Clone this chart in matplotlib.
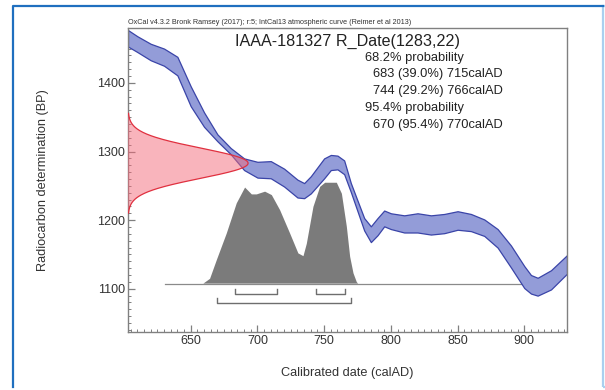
# EXT
import numpy as np
import matplotlib
matplotlib.use("Agg")
import matplotlib.pyplot as plt
from matplotlib.patches import Rectangle

# GLOBALS
# IntCal13 band (upper / lower edge, BP) against calendar year
CURVE_YEARS = [603, 610, 620, 630, 640, 650, 660, 670, 680, 690, 700, 710, 720, 730, 735, 740, 750, 755, 760, 765,
               770, 780, 785, 790, 795, 800, 810, 820, 830, 840, 850, 860, 870, 880, 890, 900, 905, 910, 920, 932]
CURVE_UPPER = [1477, 1468, 1457, 1450, 1438, 1395, 1357, 1325, 1305, 1290, 1285, 1286, 1275, 1259, 1254, 1264, 1290,
               1295, 1294, 1287, 1254, 1203, 1191, 1203, 1214, 1210, 1207, 1210, 1207, 1209, 1213, 1209, 1201, 1187,
               1163, 1133, 1120, 1116, 1127, 1149]
CURVE_LOWER = [1453, 1445, 1433, 1425, 1411, 1366, 1336, 1315, 1296, 1273, 1262, 1261, 1249, 1233, 1232, 1239, 1261,
               1273, 1274, 1267, 1241, 1185, 1168, 1178, 1191, 1187, 1182, 1182, 1179, 1181, 1186, 1184, 1177, 1160,
               1131, 1101, 1093, 1090, 1099, 1122]

# calibrated distribution (relative height)
POST_YEARS = [631, 659.5, 664.5, 669.5, 677, 684.5, 690.75, 695.8, 699.5, 705.75, 710.8, 717, 724.5, 730.7, 734.5,
              737, 742, 747, 750.75, 759.5, 763.3, 767, 769.5, 772, 774.5, 775.5, 912]
POST_HEIGHT = [0, 0, 7, 34, 73, 117, 140, 130, 130, 134, 129, 107, 73, 44, 40, 58, 112, 141, 147, 147, 131, 83, 39,
               15, 2, 0, 0]

# radiocarbon measurement
R_MEAN = 1283
R_SIGMA = 22

RANGES_68 = [(683, 715), (744, 766)]
RANGES_95 = [(670, 770)]

RESULT_LINES = ["68.2% probability", "683 (39.0%) 715calAD", "744 (29.2%) 766calAD",
                "95.4% probability", "670 (95.4%) 770calAD"]

W, H = 605, 390
FONT = ["Liberation Sans", "DejaVu Sans"]


def px(x, y):
    # pixel position (from top left) -> figure fraction
    return x / W, 1 - y / H


fig = plt.figure(figsize=(W / 100, H / 100), dpi=100)
plt.rcParams["font.family"] = FONT

x0, y1 = px(128, 28)
x1, y0 = px(567, 332)
ax = fig.add_axes([x0, y0, x1 - x0, y1 - y0])
ax.set_xlim(603, 932)
ax.set_ylim(1037, 1480)

# calibration curve
ax.fill_between(CURVE_YEARS, CURVE_LOWER, CURVE_UPPER, facecolor="#939cd8", edgecolor="#3a44a8", lw=0.9, zorder=2)

# measurement on the y axis
bp = np.linspace(R_MEAN - 3.3 * R_SIGMA, R_MEAN + 3.3 * R_SIGMA, 300)
dens = np.exp(-0.5 * ((bp - R_MEAN) / R_SIGMA) ** 2)
ax.fill_betweenx(bp, 603, 603 + 90 * dens, facecolor="#f46a7a", alpha=0.5, edgecolor="none", zorder=3)
ax.plot(603 + 90 * dens, bp, color="#e0303f", lw=0.9, zorder=3)

# calibrated distribution
base = 1107.5
ax.fill_between(POST_YEARS, base, base + np.array(POST_HEIGHT), facecolor="#7b7b7b", edgecolor="none", zorder=4)
ax.plot([POST_YEARS[0], POST_YEARS[-1]], [base, base], color="#8a8a8a", lw=0.9, zorder=1)

# range brackets
for ranges, level in [(RANGES_68, 1093), (RANGES_95, 1079)]:
    for a, b in ranges:
        ax.plot([a, a, b, b], [level + 7, level, level, level + 7], color="#6e6e6e", lw=1.0, zorder=4)

# axes styling
for s in ax.spines.values():
    s.set_color("#808080")
    s.set_linewidth(1.0)
ax.set_xticks([650, 700, 750, 800, 850, 900])
ax.set_yticks([1100, 1200, 1300, 1400])
ax.set_xticks(np.arange(605, 932, 5), minor=True)
ax.set_yticks(np.arange(1040, 1480, 10), minor=True)
ax.tick_params(which="major", direction="in", length=5, width=0.9, color="#808080", labelsize=9, labelcolor="#333333",
               pad=2)
ax.tick_params(which="minor", direction="in", length=2.5, width=0.7, color="#808080")
ax.set_xlabel("Calibrated date (calAD)", fontsize=9.2, color="#333333")
ax.set_ylabel("Radiocarbon determination (BP)", fontsize=9.2, color="#333333")
ax.xaxis.set_label_coords(0.5, -0.115)
ax.yaxis.set_label_coords(-0.18, 0.5)

# header texts
fig.text(*px(128, 24), "OxCal v4.3.2 Bronk Ramsey (2017); r:5; IntCal13 atmospheric curve (Reimer et al 2013)",
         fontsize=5.2, color="#333333", va="baseline")
fig.text(*px(347.5, 45.7), "IAAA-181327 R_Date(1283,22)", fontsize=11.6, color="#222222", ha="center",
         va="baseline")
for i, line in enumerate(RESULT_LINES):
    xl = 365 if "probability" in line else 373
    fig.text(*px(xl, 60.7 + 16.8 * i), line, fontsize=9.3, color="#222222", va="baseline")

# frame around the picture
fig.patches.append(Rectangle(px(603, 387), 590 / W, 381 / H, transform=fig.transFigure, fill=False,
                             edgecolor="#a9d0ef", lw=1.6))
fig.lines.append(plt.Line2D([13 / W, 13 / W, 603 / W], [1 - 387 / H, 1 - 6 / H, 1 - 6 / H],
                            transform=fig.transFigure, color="#1f6fbf", lw=1.6))

fig.savefig("out.png", dpi=100)
